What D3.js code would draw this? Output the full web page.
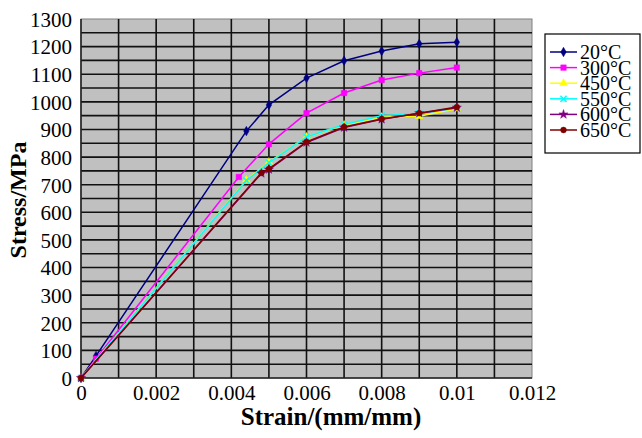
<!DOCTYPE html>
<html>
<head>
    <meta charset="utf-8">
    <title>Stress-strain curves</title>
    <script src="https://d3js.org/d3.v7.min.js"></script>
    <style>
      body { margin: 0; background: #fff; }
      text { font-family: "Liberation Serif", "Times New Roman", serif; }
    </style>
</head>
<body>
    <script>
      // data
      var temps = ["20°C", "300°C", "450°C", "550°C", "600°C", "650°C"];
      var strain20  = [0, 0.0004, 0.0044, 0.005, 0.006, 0.007, 0.008, 0.009, 0.010];
      var stress20  = [0, 80, 894, 989, 1086, 1149, 1184, 1210, 1216];
      var strain300 = [0, 0.0004, 0.0042, 0.005, 0.006, 0.007, 0.008, 0.009, 0.010];
      var stress300 = [0, 70, 728, 847, 959, 1032, 1079, 1104, 1124];
      var strain450 = [0, 0.0044, 0.005, 0.006, 0.007, 0.008, 0.009, 0.010];
      var stress450 = [0, 717, 782, 873, 916, 945, 948, 975];
      var strain550 = [0, 0.0044, 0.005, 0.006, 0.007, 0.008, 0.009, 0.010];
      var stress550 = [0, 715, 780, 873, 918, 950, 958, 977];
      var strain600 = [0, 0.0048, 0.005, 0.006, 0.007, 0.008, 0.009, 0.010];
      var stress600 = [0, 741, 755, 853, 907, 937, 959, 979];
      var strain650 = [0, 0.0048, 0.005, 0.006, 0.007, 0.008, 0.009, 0.010];
      var stress650 = [0, 743, 757, 855, 909, 938, 959, 981];
      var xTicks = [0, 0.002, 0.004, 0.006, 0.008, 0.01, 0.012];
      var yTicks = d3.range(0, 1301, 100);

      var colors = ["#000080", "#ff00ff", "#ffff00", "#00ffff", "#800080", "#800000"];
      var symbols = [d3.symbolDiamond, d3.symbolSquare, d3.symbolTriangle, d3.symbolX, d3.symbolStar, d3.symbolCircle];

      var series = [
        [strain20, stress20], [strain300, stress300], [strain450, stress450],
        [strain550, stress550], [strain600, stress600], [strain650, stress650]
      ].map(function(s, i) {
        return {
          name: temps[i],
          pts: s[0].map(function(x, j) { return [x, s[1][j]]; })
        };
      });

      var width = 642, height = 438;
      var plotL = 81, plotR = 532, plotT = 19, plotB = 378;

      var svg = d3.select("body").append("svg")
        .attr("width", width)
        .attr("height", height);

      var x = d3.scaleLinear().domain([0, 0.012]).range([plotL, plotR]);
      var y = d3.scaleLinear().domain([0, 1300]).range([plotB, plotT]);

      // plot area
      svg.append("rect")
        .attr("x", plotL).attr("y", plotT)
        .attr("width", plotR - plotL).attr("height", plotB - plotT)
        .attr("fill", "#c0c0c0")
        .attr("stroke", "#808080");

      // grid: every 50 MPa and every 0.001
      svg.append("g").selectAll("line")
        .data(d3.range(50, 1300, 50))
        .enter().append("line")
        .attr("x1", plotL).attr("x2", plotR)
        .attr("y1", function(d) { return y(d); })
        .attr("y2", function(d) { return y(d); })
        .attr("stroke", "#111").attr("stroke-width", 1.6);

      svg.append("g").selectAll("line")
        .data(d3.range(1, 12).map(function(i) { return i * 0.001; }))
        .enter().append("line")
        .attr("y1", plotT).attr("y2", plotB)
        .attr("x1", function(d) { return x(d); })
        .attr("x2", function(d) { return x(d); })
        .attr("stroke", "#111").attr("stroke-width", 1.6);

      // bottom / left axis lines
      svg.append("line").attr("x1", plotL).attr("x2", plotR)
        .attr("y1", plotB).attr("y2", plotB)
        .attr("stroke", "#222").attr("stroke-width", 1.6);
      svg.append("line").attr("x1", plotL).attr("x2", plotL)
        .attr("y1", plotT).attr("y2", plotB)
        .attr("stroke", "#222").attr("stroke-width", 1.6);

      // axes (labels only)
      var yAxis = svg.append("g")
        .attr("transform", "translate(" + (plotL - 9) + ",0)")
        .call(d3.axisLeft(y).tickValues(yTicks).tickSize(0).tickFormat(d3.format("d")));
      yAxis.select(".domain").remove();
      yAxis.selectAll("text")
        .attr("font-size", 21).attr("fill", "#000")
        .attr("dy", "0.35em")
        .attr("x", 0);

      var xAxis = svg.append("g")
        .attr("transform", "translate(0," + (plotB + 6) + ")")
        .call(d3.axisBottom(x).tickValues(xTicks).tickSize(0)
          .tickFormat(function(d) { return d === 0 ? "0" : String(+d.toFixed(3)); }));
      xAxis.select(".domain").remove();
      xAxis.selectAll("text")
        .attr("font-size", 21).attr("fill", "#000")
        .attr("dy", "0.75em")
        .attr("y", 0);

      // axis titles
      svg.append("text")
        .attr("x", 331).attr("y", 425)
        .attr("text-anchor", "middle")
        .attr("font-size", 25).attr("font-weight", "bold")
        .text("Strain/(mm/mm)");

      svg.append("text")
        .attr("transform", "translate(26,200) rotate(-90)")
        .attr("text-anchor", "middle")
        .attr("font-size", 24).attr("font-weight", "bold")
        .text("Stress/MPa");

      // lines and markers
      var line = d3.line()
        .x(function(d) { return x(d[0]); })
        .y(function(d) { return y(d[1]); });

      series.forEach(function(s, i) {
        var g = svg.append("g");
        g.append("path")
          .attr("d", line(s.pts))
          .attr("fill", "none")
          .attr("stroke", colors[i])
          .attr("stroke-width", 1.5);
        g.selectAll("path.m")
          .data(s.pts)
          .enter().append("path")
          .attr("class", "m")
          .attr("transform", function(d) { return "translate(" + x(d[0]) + "," + y(d[1]) + ")"; })
          .attr("d", d3.symbol().type(symbols[i]).size(i == 1 ? 30 : 26))
          .attr("fill", colors[i])
          .attr("stroke", colors[i])
          .attr("stroke-width", i == 3 ? 1.5 : 0.5);
      });

      // legend
      var lg = svg.append("g");
      lg.append("rect")
        .attr("x", 545).attr("y", 34)
        .attr("width", 95).attr("height", 119)
        .attr("fill", "#fff")
        .attr("stroke", "#000").attr("stroke-width", 1.2);

      var item = lg.selectAll("g.item")
        .data(series)
        .enter().append("g")
        .attr("class", "item")
        .attr("transform", function(d, i) { return "translate(0," + (52 + i * 15.6) + ")"; });

      item.append("line")
        .attr("x1", 550).attr("x2", 577)
        .attr("stroke", function(d, i) { return colors[i]; })
        .attr("stroke-width", 1.5);
      item.append("path")
        .attr("transform", "translate(563.5,0)")
        .attr("d", function(d, i) { return d3.symbol().type(symbols[i]).size(i == 1 ? 30 : 26)(); })
        .attr("fill", function(d, i) { return colors[i]; })
        .attr("stroke", function(d, i) { return colors[i]; })
        .attr("stroke-width", function(d, i) { return i == 3 ? 1.5 : 0.5; });
      item.append("text")
        .attr("x", 580).attr("dy", "0.35em")
        .attr("font-size", 20)
        .text(function(d) { return d.name; });
    </script>
</body>
</html>
